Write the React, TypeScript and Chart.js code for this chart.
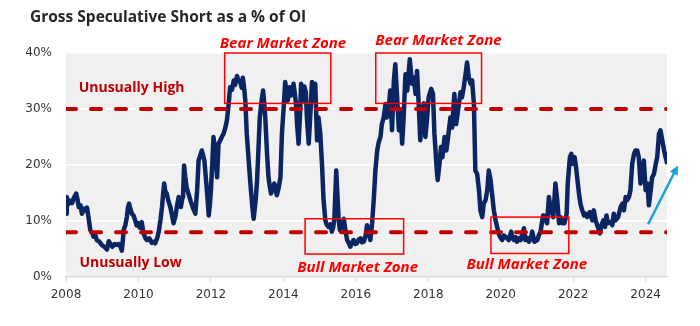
import React, { useEffect, useRef } from 'react';
import { Chart, registerables } from 'chart.js';

Chart.register(...registerables);

// ---- Data ----
const years: number[] = [
  2008.00, 2008.02, 2008.07, 2008.12, 2008.17, 2008.22, 2008.28, 2008.32, 2008.35, 2008.40,
  2008.44, 2008.49, 2008.53, 2008.58, 2008.62, 2008.67, 2008.72, 2008.76, 2008.81, 2008.85,
  2008.92, 2008.99, 2009.06, 2009.13, 2009.18, 2009.22, 2009.28, 2009.34, 2009.40, 2009.46,
  2009.50, 2009.54, 2009.57, 2009.59, 2009.64, 2009.68, 2009.71, 2009.74, 2009.78, 2009.82,
  2009.87, 2009.91, 2009.95, 2010.00, 2010.04, 2010.09, 2010.14, 2010.19, 2010.23, 2010.30,
  2010.37, 2010.42, 2010.46, 2010.52, 2010.56, 2010.61, 2010.65, 2010.69, 2010.71, 2010.74,
  2010.78, 2010.83, 2010.88, 2010.93, 2010.97, 2011.02, 2011.06, 2011.11, 2011.14, 2011.17,
  2011.21, 2011.23, 2011.26,
  2011.29, 2011.33, 2011.38, 2011.44, 2011.50, 2011.57, 2011.62, 2011.66, 2011.71, 2011.75,
  2011.79, 2011.82, 2011.86, 2011.89, 2011.94, 2011.97, 2012.00, 2012.04, 2012.07, 2012.12,
  2012.17, 2012.21, 2012.26, 2012.30, 2012.35, 2012.40, 2012.44, 2012.49, 2012.53, 2012.58,
  2012.63, 2012.67, 2012.72, 2012.76, 2012.81, 2012.85, 2012.88, 2012.92, 2012.95, 2012.99,
  2013.04, 2013.09, 2013.14, 2013.18, 2013.23, 2013.27, 2013.31, 2013.35, 2013.40, 2013.44,
  2013.47, 2013.50, 2013.55, 2013.59, 2013.63, 2013.66, 2013.70, 2013.75, 2013.79, 2013.82,
  2013.87, 2013.92, 2013.96, 2014.01, 2014.05, 2014.09, 2014.12, 2014.17, 2014.21, 2014.24,
  2014.28, 2014.32, 2014.35, 2014.38, 2014.42, 2014.46, 2014.49, 2014.54, 2014.58,
  2014.62, 2014.65, 2014.70, 2014.75, 2014.79, 2014.84, 2014.88, 2014.93, 2014.97, 2015.02,
  2015.07, 2015.11, 2015.16, 2015.20, 2015.25, 2015.30, 2015.34, 2015.38, 2015.41, 2015.46,
  2015.50, 2015.53, 2015.56, 2015.62, 2015.67, 2015.71, 2015.76, 2015.81, 2015.85, 2015.90,
  2015.94, 2015.99, 2016.03, 2016.08, 2016.13, 2016.17, 2016.22, 2016.27, 2016.31, 2016.36,
  2016.40, 2016.45, 2016.50, 2016.54, 2016.59, 2016.63, 2016.68, 2016.72, 2016.77, 2016.82,
  2016.86, 2016.91, 2016.95, 2017.00, 2017.05, 2017.09, 2017.14, 2017.19, 2017.23, 2017.28,
  2017.32, 2017.37, 2017.42, 2017.49, 2017.55, 2017.60, 2017.65, 2017.69, 2017.74, 2017.78,
  2017.83, 2017.88,
  2017.92, 2017.97, 2018.01, 2018.08, 2018.13, 2018.17, 2018.23, 2018.26, 2018.32, 2018.35,
  2018.39, 2018.45, 2018.50, 2018.57, 2018.61, 2018.66, 2018.72, 2018.77, 2018.82, 2018.89,
  2018.93, 2018.98, 2019.03, 2019.07, 2019.12, 2019.17, 2019.21, 2019.26, 2019.30, 2019.35,
  2019.40, 2019.44, 2019.49, 2019.53, 2019.58, 2019.63, 2019.67, 2019.72, 2019.76, 2019.81,
  2019.86, 2019.90, 2019.94, 2019.98, 2020.04, 2020.09, 2020.13, 2020.18, 2020.22, 2020.29,
  2020.32, 2020.36, 2020.41, 2020.45, 2020.50, 2020.55, 2020.64, 2020.68, 2020.73, 2020.78,
  2020.83, 2020.87, 2020.93, 2021.01, 2021.05, 2021.10, 2021.14, 2021.17,
  2021.19, 2021.28, 2021.33, 2021.37, 2021.45, 2021.51, 2021.56, 2021.61, 2021.65, 2021.70,
  2021.76, 2021.82, 2021.85, 2021.91, 2021.95, 2021.98, 2022.04, 2022.08, 2022.11, 2022.16,
  2022.20, 2022.25, 2022.30, 2022.34, 2022.39, 2022.46, 2022.53, 2022.57, 2022.62, 2022.68,
  2022.74, 2022.78, 2022.83, 2022.88, 2022.92, 2022.96, 2023.03, 2023.08, 2023.12, 2023.17,
  2023.24, 2023.31, 2023.36, 2023.40, 2023.45, 2023.49, 2023.54, 2023.58, 2023.63, 2023.68,
  2023.72, 2023.77, 2023.81, 2023.86, 2023.91, 2023.95, 2024.00, 2024.05, 2024.09, 2024.14,
  2024.18, 2024.23, 2024.28, 2024.32, 2024.37, 2024.41, 2024.46, 2024.51, 2024.55, 2024.60,
];

const grossShortPct: number[] = [
  11.3, 14.3, 13.0, 13.6, 13.2, 14.2, 14.9, 13.8, 12.5, 12.8,
  11.3, 12.2, 11.9, 12.4, 10.7, 8.4, 7.9, 7.2, 7.5, 6.6,
  6.3, 5.7, 5.4, 4.9, 6.4, 6.0, 5.4, 5.9, 5.7, 5.9,
  5.5, 4.7, 6.5, 8.4, 9.3, 10.7, 12.4, 13.1, 12.1, 11.3,
  10.9, 10.1, 9.2, 9.6, 8.8, 9.8, 7.8, 7.0, 6.6, 6.9,
  6.1, 6.3, 6.0, 7.0, 8.1, 10.3, 12.5, 15.4, 16.7, 15.3,
  14.9, 13.5, 12.5, 10.9, 9.6, 10.8, 12.5, 14.3, 12.9, 12.5,
  14.0, 14.3, 19.9,
  18.0, 16.0, 14.9, 13.6, 12.4, 11.3, 15.5, 20.8, 21.8, 22.6,
  21.6, 20.8, 17.8, 15.5, 11.0, 12.8, 15.5, 20.5, 25.0, 22.6,
  17.8, 23.8, 24.4, 25.0, 25.6, 26.7, 27.9, 30.9, 33.9, 33.4,
  35.1, 34.3, 35.9, 35.1, 34.8, 33.8, 35.6, 33.6, 31.5, 25.6,
  21.0, 16.7, 12.8, 10.4, 13.4, 16.7, 22.5, 28.5, 31.6, 33.3,
  31.2, 28.5, 22.0, 17.8, 16.0, 14.9, 15.9, 16.7, 15.4, 14.6,
  15.9, 17.8, 25.6, 30.4, 34.8, 33.0, 31.5, 33.9, 32.4, 32.7,
  34.5, 32.6, 30.9, 27.2, 23.8, 29.0, 34.5, 31.5, 34.0,
  33.0, 28.5, 23.8, 29.7, 34.8, 31.5, 34.5, 24.4, 28.5, 25.6,
  19.6, 13.7, 10.1, 9.3, 8.95, 9.4, 8.1, 9.0, 10.7, 19.0,
  13.7, 10.0, 8.4, 8.95, 10.4, 8.4, 6.6, 6.0, 5.4, 6.2,
  6.6, 5.9, 6.0, 6.7, 6.9, 6.2, 6.3, 7.4, 9.25, 7.8,
  6.6, 9.6, 14.3, 19.0, 22.6, 24.0, 25.0, 27.3, 28.5, 30.9,
  28.5, 30.3, 33.3, 26.2, 35.1, 38.0, 32.1, 26.2, 29.7, 23.8,
  28.5, 36.2, 33.3, 38.9, 34.5, 35.6, 32.7, 36.8, 30.3, 24.4,
  29.7, 31.0,
  25.0, 28.5, 32.1, 33.6, 32.7, 25.6, 19.6, 17.3, 20.8, 23.2,
  21.4, 25.0, 22.6, 26.2, 28.5, 26.7, 32.7, 27.3, 29.7, 33.0,
  32.1, 33.9, 36.2, 38.3, 35.6, 34.5, 35.1, 30.9, 19.0, 18.4,
  15.5, 11.9, 10.7, 13.1, 13.7, 15.5, 19.0, 17.3, 14.9, 11.9,
  10.1, 8.95, 7.8, 7.2, 6.6, 7.4, 7.2, 6.9, 6.6, 8.1,
  7.0, 6.6, 7.1, 6.3, 6.9, 6.6, 8.7, 6.6, 7.0, 6.3,
  6.9, 8.1, 6.3, 6.6, 7.4, 8.1, 9.8, 11.0,
  10.7, 9.6, 14.3, 12.5, 10.7, 16.7, 13.7, 9.6, 10.7, 9.6,
  9.6, 11.3, 16.7, 21.4, 22.0, 20.2, 21.4, 19.6, 17.8, 14.9,
  13.1, 11.9, 11.0, 11.3, 10.7, 11.6, 10.1, 11.9, 10.1, 8.95,
  7.8, 9.25, 10.1, 8.95, 11.0, 9.6, 9.8, 9.25, 11.3, 10.1,
  10.7, 12.5, 13.1, 11.9, 14.3, 13.7, 14.3, 15.5, 20.2, 22.0,
  22.6, 22.6, 21.4, 16.7, 18.4, 20.8, 15.5, 16.7, 12.8, 15.5,
  17.8, 18.4, 20.2, 21.4, 25.6, 26.2, 24.4, 22.6, 21.4, 20.2,
];

const xTickYears: number[] = [2008, 2010, 2012, 2014, 2016, 2018, 2020, 2022, 2024];
const yTickValues: number[] = [0, 10, 20, 30, 40];
const xRange: number[] = [2008, 2024.59];
const unusuallyHighLevel = 30;
const unusuallyLowLevel = 8;

// ---- Annotations (data-space anchors) ----
const zoneNames: string[] = ['Bear Market Zone', 'Bear Market Zone', 'Bull Market Zone', 'Bull Market Zone'];
const zoneX0: number[] = [2012.38, 2016.55, 2014.60, 2019.73];
const zoneX1: number[] = [2015.31, 2019.47, 2017.32, 2021.88];
const zoneYTop: number[] = [40, 40, 10.4, 10.7];
const zoneYBottom: number[] = [31.0, 31.0, 4.1, 4.2];
const zoneLabelX: number[] = [2013.99, 2018.28, 2016.05, 2020.72];
const zoneLabelY: number[] = [40.9, 41.5, 0.94, 1.43];

const levelLabels: string[] = ['Unusually High', 'Unusually Low'];
const levelLabelX: number[] = [2008.35, 2008.37];
const levelLabelY: number[] = [33.05, 1.73];

const arrowFrom: number[] = [2024.07, 9.43];
const arrowTo: number[] = [2024.89, 19.9];

const TITLE = 'Gross Speculative Short as a % of OI';

const decorPlugin = {
  id: 'decor',
  beforeDraw(chart: any) {
    const { ctx, chartArea: a } = chart;
    ctx.save();
    ctx.fillStyle = '#f0f0f0';
    ctx.fillRect(a.left, a.top, a.right - a.left, a.bottom - a.top);
    ctx.restore();
  },
  afterDraw(chart: any) {
    const { ctx } = chart;
    const xs = chart.scales.x;
    const ys = chart.scales.y;
    const px = (v: number) => xs.getPixelForValue(v);
    const py = (v: number) => ys.getPixelForValue(v);
    ctx.save();

    // title
    ctx.fillStyle = '#262626';
    ctx.font = 'bold 15.5px "Open Sans"';
    ctx.textAlign = 'left';
    ctx.textBaseline = 'alphabetic';
    ctx.fillText(TITLE, 30, 21.5);

    // zone boxes and labels
    for (let i = 0; i < zoneNames.length; i++) {
      const x0 = px(zoneX0[i]);
      const x1 = px(zoneX1[i]);
      const y0 = py(zoneYTop[i]);
      const y1 = py(zoneYBottom[i]);
      ctx.strokeStyle = '#ff0000';
      ctx.lineWidth = 1.5;
      ctx.strokeRect(x0, y0, x1 - x0, y1 - y0);
      ctx.fillStyle = '#ff0000';
      ctx.font = 'italic bold 15px "Open Sans"';
      ctx.textAlign = 'center';
      ctx.fillText(zoneNames[i], px(zoneLabelX[i]), py(zoneLabelY[i]));
    }

    // level labels
    for (let i = 0; i < levelLabels.length; i++) {
      ctx.fillStyle = '#c00000';
      ctx.font = 'bold 14px "Open Sans"';
      ctx.textAlign = 'left';
      ctx.fillText(levelLabels[i], px(levelLabelX[i]), py(levelLabelY[i]));
    }

    // arrow
    const ax0 = px(arrowFrom[0]);
    const ay0 = py(arrowFrom[1]);
    const ax1 = px(arrowTo[0]);
    const ay1 = py(arrowTo[1]);
    const ang = Math.atan2(ay1 - ay0, ax1 - ax0);
    const head = 9;
    ctx.strokeStyle = '#1aa0e4';
    ctx.fillStyle = '#1aa0e4';
    ctx.lineWidth = 2.5;
    ctx.beginPath();
    ctx.moveTo(ax0, ay0);
    ctx.lineTo(ax1 - Math.cos(ang) * head * 0.6, ay1 - Math.sin(ang) * head * 0.6);
    ctx.stroke();
    ctx.beginPath();
    ctx.moveTo(ax1, ay1);
    ctx.lineTo(ax1 - head * Math.cos(ang) + 4.5 * Math.sin(ang), ay1 - head * Math.sin(ang) - 4.5 * Math.cos(ang));
    ctx.lineTo(ax1 - head * Math.cos(ang) - 4.5 * Math.sin(ang), ay1 - head * Math.sin(ang) + 4.5 * Math.cos(ang));
    ctx.closePath();
    ctx.fill();

    ctx.restore();
  },
};

export default function App() {
  const ref = useRef<HTMLCanvasElement | null>(null);

  useEffect(() => {
    if (!ref.current) return;
    const series = years.map((x, i) => ({ x, y: grossShortPct[i] }));
    const highLine = xRange.map((x) => ({ x, y: unusuallyHighLevel }));
    const lowLine = xRange.map((x) => ({ x, y: unusuallyLowLevel }));

    const chart = new Chart(ref.current, {
      type: 'line',
      data: {
        datasets: [
          {
            data: highLine,
            borderColor: '#c00000',
            borderWidth: 4,
            borderDash: [10, 15],
            borderCapStyle: 'round',
            pointRadius: 0,
            order: 0,
          },
          {
            data: lowLine,
            borderColor: '#c00000',
            borderWidth: 4,
            borderDash: [10, 15],
            borderCapStyle: 'round',
            pointRadius: 0,
            order: 0,
          },
          {
            data: series,
            borderColor: '#0b2462',
            borderWidth: 4.5,
            borderJoinStyle: 'round',
            pointRadius: 0,
            tension: 0,
            order: 1,
          },
        ] as any,
      },
      options: {
        animation: false,
        responsive: false,
        devicePixelRatio: 1,
        layout: { padding: { top: 53, right: 33, left: 0, bottom: 0 } },
        plugins: {
          legend: { display: false },
          tooltip: { enabled: false },
          title: { display: false },
        },
        scales: {
          x: {
            type: 'linear',
            min: xRange[0],
            max: xRange[1],
            afterBuildTicks: (s: any) => {
              s.ticks = xTickYears.map((v) => ({ value: v }));
            },
            afterFit: (s: any) => {
              s.height = 49;
            },
            grid: {
              drawOnChartArea: false,
              drawTicks: true,
              tickLength: 5,
              color: '#d9d9d9',
              lineWidth: 1,
            },
            border: { display: true, color: '#d9d9d9', width: 1.5 },
            ticks: {
              padding: 6,
              color: '#333333',
              font: { family: 'DejaVu Sans', size: 12 },
              maxRotation: 0,
              autoSkip: false,
              callback: (v: any) => String(v),
            },
          },
          y: {
            type: 'linear',
            min: 0,
            max: 40,
            afterBuildTicks: (s: any) => {
              s.ticks = yTickValues.map((v) => ({ value: v }));
            },
            afterFit: (s: any) => {
              s.width = 66;
            },
            grid: { color: '#ffffff', lineWidth: 1.5, drawTicks: false },
            border: { display: false },
            ticks: {
              padding: 14,
              color: '#333333',
              font: { family: 'DejaVu Sans', size: 12 },
              callback: (v: any) => v + '%',
            },
          },
        },
      } as any,
      plugins: [decorPlugin],
    });
    return () => chart.destroy();
  }, []);

  return (
    <div style={{ position: 'absolute', left: 0, top: 0, width: 700, height: 326, background: '#ffffff' }}>
      <canvas ref={ref} width={700} height={326} style={{ display: 'block', width: 700, height: 326 }} />
    </div>
  );
}
